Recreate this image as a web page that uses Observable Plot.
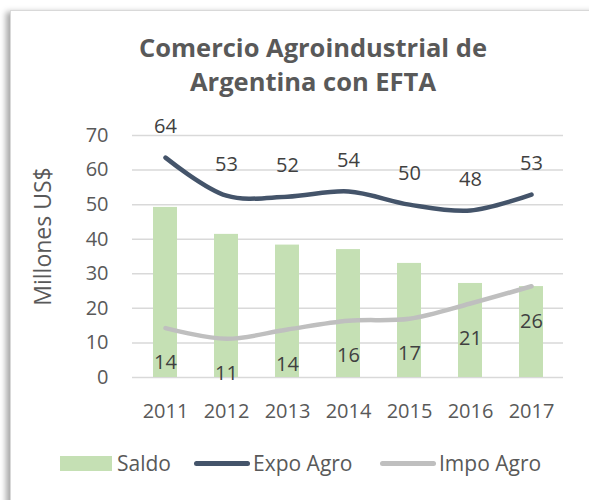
<!DOCTYPE html>
<html>
<head>
<meta charset="utf-8">
<script src="https://cdn.jsdelivr.net/npm/d3@7"></script>
<script src="https://cdn.jsdelivr.net/npm/@observablehq/plot@0.6"></script>
<style>
  html, body { margin: 0; padding: 0; background: #fff; width: 589px; height: 500px; overflow: hidden; }
  body { position: relative; font-family: "Open Sans", sans-serif; }
  #frame { position: absolute; left: 10px; top: 10px; width: 620px; height: 520px;
           border: 1.5px solid #d9d9d9; box-shadow: -4px 2px 6px rgba(0,0,0,0.35); background: #fff; }
  #title { position: absolute; left: 37px; width: 552px; top: 30px; text-align: center;
           font-size: 25.5px; line-height: 34px; font-weight: bold; color: #595959; }
  #chart { position: absolute; left: 0; top: 110px; }
  .leg { position: absolute; top: 450px; height: 26px; display: flex; align-items: center;
         font-size: 21px; color: #595959; white-space: nowrap; }
  .sw-bar { width: 52px; height: 15px; background: #c5e0b4; margin-right: 5px; }
  .sw-line { width: 56px; height: 5px; border-radius: 3px; margin-right: 3px; }
</style>
</head>
<body>
<div id="frame"></div>
<div id="title">Comercio Agroindustrial de<br>Argentina con EFTA</div>
<div id="chart"></div>
<div class="leg" style="left:60px"><div class="sw-bar"></div><span>Saldo</span></div>
<div class="leg" style="left:194px"><div class="sw-line" style="background:#44546a"></div><span>Expo Agro</span></div>
<div class="leg" style="left:380px"><div class="sw-line" style="background:#bfbfbf"></div><span>Impo Agro</span></div>
<script>
const years = ["2011", "2012", "2013", "2014", "2015", "2016", "2017"];
const saldo = [49.2, 41.4, 38.3, 37.0, 33.0, 27.2, 26.3];
const expo  = [63.6, 52.6, 52.3, 53.8, 50.0, 48.3, 52.9];
const impo  = [14.3, 11.2, 13.9, 16.4, 17.0, 21.4, 26.4];
const yTicks = [0, 10, 20, 30, 40, 50, 60, 70];

const rows = years.map((year, i) => ({year, saldo: saldo[i], expo: expo[i], impo: impo[i]}));
const fmt = d3.format(".0f");

const plot = Plot.plot({
  width: 589,
  height: 320,
  marginTop: 25,
  marginBottom: 53,
  marginLeft: 132,
  marginRight: 26,
  style: {fontFamily: "Open Sans", fontSize: "20px", color: "#595959", background: "transparent"},
  x: {type: "band", domain: years, paddingInner: 0.61, paddingOuter: 0.305},
  y: {domain: [0, 70]},
  marks: [
    Plot.ruleY(yTicks, {stroke: "#d9d9d9", strokeWidth: 1.5}),
    Plot.barY(rows, {x: "year", y: "saldo", fill: "#c5e0b4"}),
    Plot.line(rows, {x: "year", y: "impo", stroke: "#bfbfbf", strokeWidth: 4.5, curve: "catmull-rom", strokeLinecap: "round"}),
    Plot.line(rows, {x: "year", y: "expo", stroke: "#44546a", strokeWidth: 4.5, curve: "catmull-rom", strokeLinecap: "round"}),
    Plot.text(rows, {x: "year", y: "expo", text: d => fmt(d.expo), dy: -31, fill: "#404040", fontSize: 20}),
    Plot.text(rows, {x: "year", y: "impo", text: d => fmt(d.impo), dy: 35, fill: "#404040", fontSize: 20}),
    Plot.axisY(yTicks, {tickSize: 0, tickPadding: 24, label: null, fontSize: 20}),
    Plot.axisX({tickSize: 0, tickPadding: 26, label: null, fontSize: 20}),
    Plot.text(["Millones US$"], {frameAnchor: "left", textAnchor: "middle", rotate: -90, dx: -89, dy: -20, fontSize: 23, fill: "#595959"})
  ]
});
document.getElementById("chart").appendChild(plot);
</script>
</body>
</html>
